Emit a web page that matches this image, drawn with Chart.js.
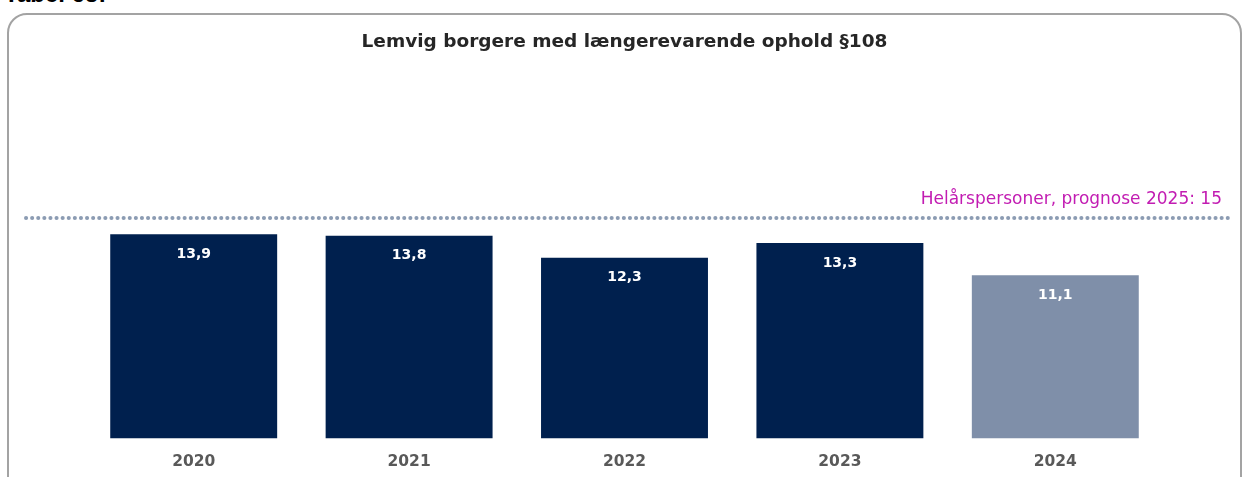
<!DOCTYPE html>
<html>
<head>
<meta charset="utf-8">
<script src="https://cdn.jsdelivr.net/npm/chart.js@4"></script>
<style>
  html, body { margin: 0; padding: 0; background: #fff; overflow: hidden; }
  #wrap { position: relative; width: 1244px; height: 477px; }
  #frame { position: absolute; left: 7px; top: 13px; width: 1235px; height: 520px;
           border: 2px solid #a3a3a3; border-radius: 20px; box-sizing: border-box; }
  #tabel { position: absolute; left: 4px; top: -20px; font: bold 24px "Liberation Sans", sans-serif; color: #000; }
  canvas { position: absolute; left: 0; top: 0; }
</style>
</head>
<body>
<div id="wrap">
  <div id="tabel">Tabel 65:</div>
  <div id="frame"></div>
  <canvas id="chart" width="1244" height="477"></canvas>
</div>
<script>
const years = ['2020', '2021', '2022', '2023', '2024'];
const values = [13.9, 13.8, 12.3, 13.3, 11.1];
const barColors = ['#00204e', '#00204e', '#00204e', '#00204e', '#7f8fa9'];
const prognose = 15;
const prognoseText = 'Helårspersoner, prognose 2025: 15';
const chartTitle = 'Lemvig borgere med længerevarende ophold §108';

const extras = {
  id: 'extras',
  afterDatasetsDraw(chart) {
    const ctx = chart.ctx;
    const meta = chart.getDatasetMeta(0);
    ctx.save();
    ctx.fillStyle = '#ffffff';
    ctx.font = 'bold 14px "DejaVu Sans", sans-serif';
    ctx.textAlign = 'center';
    ctx.textBaseline = 'middle';
    meta.data.forEach((bar, i) => {
      ctx.fillText(values[i].toString().replace('.', ','), bar.x, bar.y + 20);
    });

    // prognose line
    const y = chart.scales.y.getPixelForValue(prognose);
    ctx.strokeStyle = '#8c9cb3';
    ctx.lineWidth = 4;
    ctx.lineCap = 'round';
    ctx.setLineDash([0.1, 6]);
    ctx.beginPath();
    ctx.moveTo(26, y);
    ctx.lineTo(1229, y);
    ctx.stroke();
    ctx.setLineDash([]);

    ctx.fillStyle = '#c21cb2';
    ctx.font = '17px "DejaVu Sans", sans-serif';
    ctx.textAlign = 'right';
    ctx.textBaseline = 'middle';
    ctx.fillText(prognoseText, 1222, y - 19);
    ctx.restore();
  }
};

new Chart(document.getElementById('chart'), {
  type: 'bar',
  data: {
    labels: years,
    datasets: [{
      data: values,
      backgroundColor: barColors,
      categoryPercentage: 0.775,
      barPercentage: 1
    }]
  },
  options: {
    responsive: false,
    animation: false,
    layout: { padding: { left: 86, right: 81, top: 10, bottom: 0 } },
    plugins: {
      legend: { display: false },
      tooltip: { enabled: false },
      title: {
        display: true,
        text: chartTitle,
        color: '#262626',
        font: { family: 'DejaVu Sans', size: 18.5, weight: 'bold' },
        padding: { top: 21, bottom: 18 }
      }
    },
    scales: {
      x: {
        grid: { display: false },
        border: { display: false },
        ticks: { color: '#595959', font: { family: 'DejaVu Sans', size: 15.5, weight: 'bold' }, padding: 6 }
      },
      y: {
        display: false,
        min: 0,
        max: 25
      }
    }
  },
  plugins: [extras]
});
</script>
</body>
</html>
